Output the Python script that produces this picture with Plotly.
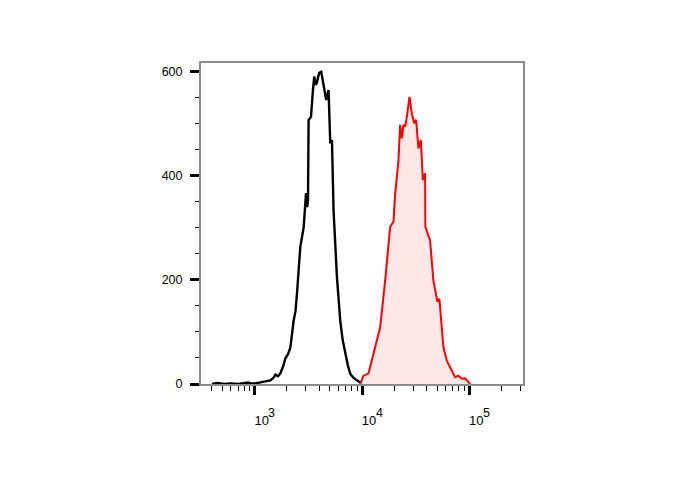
import plotly.graph_objects as go

# control (black) histogram
ctrl_x = [400, 450, 520, 600, 700, 800, 870, 920, 1000, 1130, 1300, 1400, 1500, 1560,
          1650, 1730, 1850, 1930, 2050, 2150, 2310, 2400, 2480, 2560, 2660, 2860, 3010,
          3080, 3140, 3180, 3350, 3490, 3590, 3700, 3800, 3900, 4000, 4170, 4380, 4500,
          4640, 4880, 5060, 5250, 5430, 5840, 6270, 6600, 6980, 7400, 7770, 8300, 8970, 9630]
ctrl_y = [0, 2, 0, 1, 0, 1, 3, 1, 1, 3, 5, 7, 12, 18,
          15, 20, 35, 49, 58, 70, 122, 140, 174, 215, 263, 301, 367,
          340, 353, 507, 514, 565, 591, 575, 579, 590, 598, 600, 572, 560,
          546, 565, 463, 469, 334, 206, 122, 85, 59, 35, 20, 12, 7, 3]

# stained (red) histogram
stain_x = [9610, 10330, 11490, 12100, 12790, 14760, 16430, 17050, 18290, 19640, 20370,
           21870, 22660, 23500, 24330, 25220, 26170, 27680, 29120, 30610, 31920, 33560,
           35330, 36880, 38730, 38900, 43080, 46240, 50380, 52580, 57300, 61610, 68570,
           73620, 79060, 84980, 91270, 101600]
stain_y = [0, 16, 20, 38, 58, 109, 199, 238, 302, 312, 366,
           430, 498, 472, 498, 495, 514, 552, 520, 501, 508, 453,
           469, 392, 405, 302, 276, 199, 158, 164, 71, 45, 26,
           13, 16, 10, 11, 0]

x_ticks = [1000, 10000, 100000]
x_base = ["10", "10", "10"]
x_exp = ["3", "4", "5"]
y_ticks = [0, 200, 400, 600]

fig = go.Figure()
fig.add_trace(go.Scatter(x=stain_x, y=stain_y, mode="lines", fill="tozeroy",
                         fillcolor="rgba(255,0,0,0.09)",
                         line=dict(color="#ff0000", width=2)))
fig.add_trace(go.Scatter(x=ctrl_x, y=ctrl_y, mode="lines",
                         line=dict(color="#000000", width=2.4)))

# exponents drawn as separate full-size superscripts, like the flow software does
for t, e in zip(x_ticks, x_exp):
    fig.add_annotation(x=len(str(t)) - 1, y=0, xref="x", yref="paper", text=e,
                       showarrow=False, xanchor="center", yanchor="middle",
                       xshift=17, yshift=-29, font=dict(size=12.5))

fig.update_layout(
    width=688, height=490,
    margin=dict(l=193, r=173, t=55, b=114),
    paper_bgcolor="white", plot_bgcolor="white",
    showlegend=False,
    font=dict(family="Liberation Sans, Arial, sans-serif", size=12, color="black"),
)
fig.update_xaxes(type="log", range=[2.5, 5.5],
                 tickvals=x_ticks, ticktext=x_base,
                 ticks="outside", ticklen=9, tickwidth=2.5, tickcolor="black",
                 minor=dict(ticks="outside", ticklen=5, tickwidth=1.2, tickcolor="black",
                            dtick="D1", showgrid=False),
                 showline=True, linecolor="#8c8c8c", linewidth=2, mirror=True,
                 showgrid=False, zeroline=False, tickfont=dict(size=13),
                 ticklabelstandoff=14, ticklabelshift=7)
fig.update_yaxes(range=[0, 617], tickvals=y_ticks,
                 ticks="outside", ticklen=9, tickwidth=2.5, tickcolor="black",
                 minor=dict(ticks="outside", ticklen=4, tickwidth=1.2, tickcolor="black",
                            dtick=50, showgrid=False),
                 showline=True, linecolor="#8c8c8c", linewidth=2, mirror=True,
                 showgrid=False, zeroline=False, ticklabelstandoff=5,
                 tickfont=dict(size=12.5))

fig.write_html("out.html")
